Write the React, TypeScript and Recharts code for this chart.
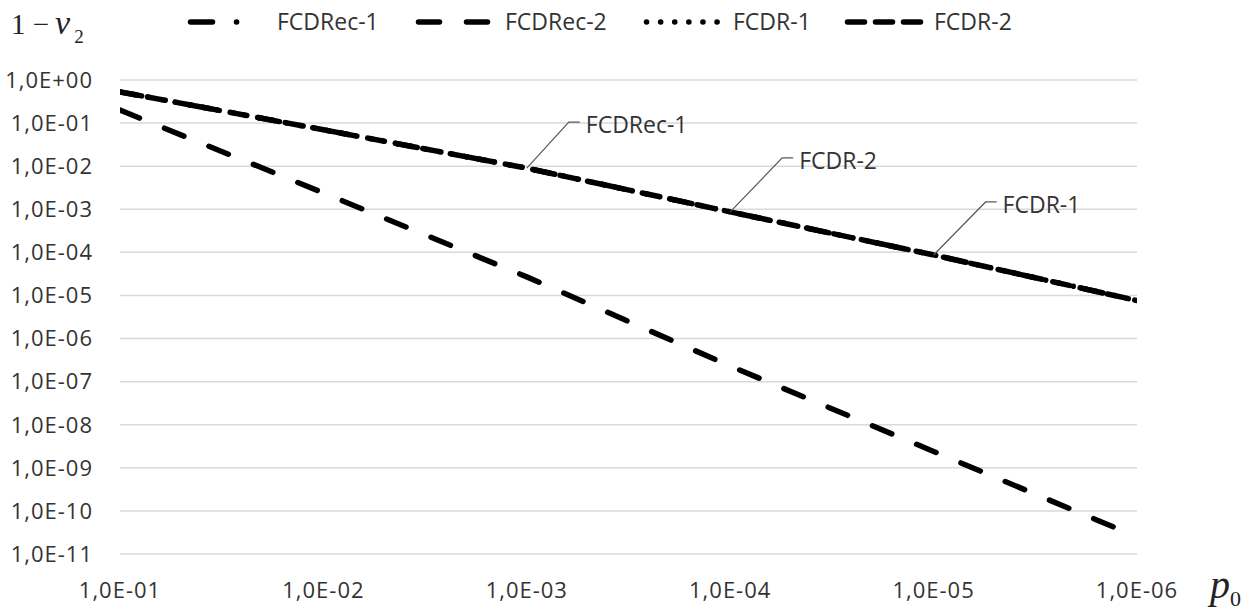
import React from "react";
import { LineChart, Line, XAxis, YAxis, CartesianGrid, LabelList } from "recharts";

// p0 values (x axis, decades)
const p0 = [1e-1, 1e-2, 1e-3, 1e-4, 1e-5, 1e-6];

// 1 - nu2 values
const fcdRec1 = [0.53, 0.07, 9.0e-3, 8.7e-4, 8.7e-5, 7.6e-6];
const fcdRec2 = [0.2, 2.4e-3, 2.7e-5, 2.3e-7, 2.4e-9, 2.5e-11];
const fcdr1 = [0.53, 0.07, 9.0e-3, 8.7e-4, 8.7e-5, 7.6e-6];
const fcdr2 = [0.53, 0.07, 9.0e-3, 8.7e-4, 8.7e-5, 7.6e-6];

const xTicks = [1e-1, 1e-2, 1e-3, 1e-4, 1e-5, 1e-6];
const yTicks = [1, 1e-1, 1e-2, 1e-3, 1e-4, 1e-5, 1e-6, 1e-7, 1e-8, 1e-9, 1e-10, 1e-11];

// legend / callout layout
const series = [
  { key: "rec1", name: "FCDRec-1", dash: "22 24 0.1 24", legendX: 188, legendLen: 52, callout: 2, cdx: 42, cdy: -46 },
  { key: "rec2", name: "FCDRec-2", dash: "21 27", legendX: 416, legendLen: 73, callout: -1, cdx: 0, cdy: 0 },
  { key: "r1", name: "FCDR-1", dash: "0.1 14", legendX: 644, legendLen: 72, callout: 4, cdx: 52, cdy: -53 },
  { key: "r2", name: "FCDR-2", dash: "17 11", legendX: 845, legendLen: 74, callout: 3, cdx: 52, cdy: -54 },
];

const data = p0.map((p, i) => ({
  p,
  rec1: fcdRec1[i],
  rec2: fcdRec2[i],
  r1: fcdr1[i],
  r2: fcdr2[i],
}));

const fmt = (v: number) => {
  const e = Math.round(Math.log10(v));
  return `1,0E${e < 0 ? "-" : "+"}${String(Math.abs(e)).padStart(2, "0")}`;
};

const FONT = "'Open Sans', sans-serif";
const SERIF = "'Liberation Serif', serif";

const makeCallout = (name: string, at: number, dx: number, dy: number) => (props: any) => {
  const { x, y, index } = props;
  if (index !== at) return null;
  const x1 = x + dx;
  const y1 = y + dy;
  return (
    <g>
      <polyline points={`${x},${y} ${x1},${y1} ${x1 + 11},${y1}`} fill="none" stroke="#595959" strokeWidth={1.2} />
      <text x={x1 + 17} y={y1 + 3} dy={8} fontSize={23} fill="#333" fontFamily={FONT}>
        {name}
      </text>
    </g>
  );
};

export default function App() {
  return (
    <div style={{ position: "absolute", left: 0, top: 0, width: 1259, height: 612, background: "#fff" }}>
      <svg width={1259} height={612} style={{ position: "absolute", left: 0, top: 0 }}>
        <text x={11} y={34} fontFamily={SERIF} fontSize={29} fill="#222">
          1 −<tspan fontStyle="italic" fontSize={34} dx={6}>ν</tspan>
          <tspan fontSize={19} dy={9} dx={4}>2</tspan>
        </text>
        <text x={1210} y={598} fontFamily={SERIF} fontSize={40} fill="#222">
          <tspan fontStyle="italic">p</tspan>
          <tspan fontSize={22} dy={8}>0</tspan>
        </text>
        {series.map((s) => (
          <g key={s.key}>
            <line
              x1={s.legendX + 2.5}
              y1={22}
              x2={s.legendX + 2.5 + s.legendLen}
              y2={22}
              stroke="#000"
              strokeWidth={5.5}
              strokeLinecap="round"
              strokeDasharray={s.dash}
            />
            <text x={s.legendX + 89} y={22} dy={8} fontSize={23} fill="#333" fontFamily={FONT}>
              {s.name}
            </text>
          </g>
        ))}
      </svg>
      <div style={{ position: "absolute", left: 0, top: 0 }}>
        <LineChart width={1259} height={612} data={data} margin={{ top: 80, right: 122, left: 20, bottom: 0 }}>
          <CartesianGrid vertical={false} stroke="#d9d9d9" strokeWidth={1.5} />
          <XAxis
            dataKey="p"
            type="number"
            scale="log"
            domain={[1e-6, 1e-1]}
            reversed
            allowDataOverflow
            ticks={xTicks}
            tickFormatter={fmt}
            axisLine={false}
            tickLine={false}
            tickSize={0}
            tickMargin={28}
            height={58}
            tick={{ fontSize: 22, fill: "#333", fontFamily: FONT, letterSpacing: 1 }}
          />
          <YAxis
            type="number"
            scale="log"
            domain={[1e-11, 1]}
            allowDataOverflow
            ticks={yTicks}
            tickFormatter={fmt}
            axisLine={false}
            tickLine={false}
            tickSize={0}
            tickMargin={27}
            width={100}
            tick={{ fontSize: 22, fill: "#333", fontFamily: FONT, letterSpacing: 1 }}
          />
          {series.map((s) => (
            <Line
              key={s.key}
              dataKey={s.key}
              name={s.name}
              type="linear"
              stroke="#000"
              strokeWidth={5.5}
              strokeLinecap="round"
              strokeDasharray={s.dash}
              dot={false}
              isAnimationActive={false}
            >
              {s.callout >= 0 && <LabelList dataKey={s.key} content={makeCallout(s.name, s.callout, s.cdx, s.cdy)} />}
            </Line>
          ))}
        </LineChart>
      </div>
    </div>
  );
}
